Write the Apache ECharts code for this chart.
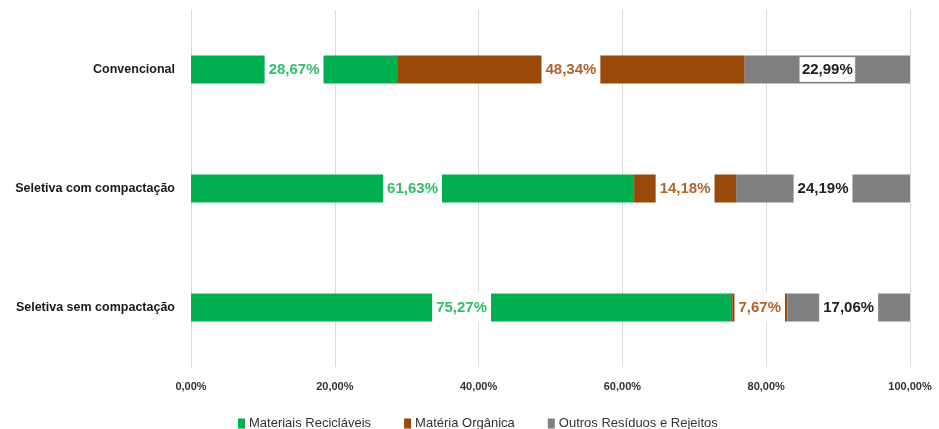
<!DOCTYPE html>
<html>
<head>
<meta charset="utf-8">
<script src="https://cdn.jsdelivr.net/npm/echarts@6/dist/echarts.min.js"></script>
<style>
html,body{margin:0;padding:0;background:#fff;}
#chart{width:939px;height:429px;}
</style>
</head>
<body>
<div id="chart"></div>
<script>
const categories = ['Convencional', 'Seletiva com compactação', 'Seletiva sem compactação'];
const seriesNames = ['Materiais Recicláveis', 'Matéria Orgânica', 'Outros Resíduos e Rejeitos'];
const reciclaveis = [28.67, 61.63, 75.27];
const organica = [48.34, 14.18, 7.67];
const outros = [22.99, 24.19, 17.06];
const xTicks = [0, 20, 40, 60, 80, 100];

const barColors = ['#00B050', '#984807', '#808080'];
const labelColors = ['#30BE68', '#B0632A', '#1E1E1E'];
const fmt = v => v.toFixed(2).replace('.', ',') + '%';
const FONT = '"Liberation Sans", Arial, sans-serif';

function makeSeries(name, values, idx) {
  return {
    name: name,
    type: 'bar',
    stack: 'total',
    barWidth: 28,
    itemStyle: { color: barColors[idx] },
    label: {
      show: true,
      position: 'inside',
      formatter: p => fmt(p.value),
      color: labelColors[idx],
      fontFamily: FONT,
      fontWeight: 'bold',
      fontSize: 15,
      lineHeight: 16,
      backgroundColor: '#ffffff',
      padding: [7, 4]
    },
    data: values.map((v, i) => {
      if (idx === 2 && i === 0) {
        return { value: v, label: { padding: [4, 2], borderColor: '#e0e0e0', borderWidth: 0.5 } };
      }
      return v;
    })
  };
}

const chart = echarts.init(document.getElementById('chart'), null, { renderer: 'canvas' });
chart.setOption({
  animation: false,
  backgroundColor: '#ffffff',
  grid: { left: 191, right: 29, top: 10, bottom: 62, containLabel: false },
  xAxis: {
    type: 'value',
    min: 0, max: 100, interval: 20,
    axisLine: { show: false },
    axisTick: { show: false },
    splitLine: { show: true, lineStyle: { color: '#d9d9d9', width: 1 } },
    axisLabel: {
      margin: 14,
      color: '#333333',
      fontFamily: FONT,
      fontWeight: 'bold',
      fontSize: 11,
      formatter: v => xTicks.includes(v) ? v.toFixed(2).replace('.', ',') + '%' : ''
    }
  },
  yAxis: {
    type: 'category',
    inverse: true,
    data: categories,
    axisLine: { show: true, lineStyle: { color: '#d9d9d9' } },
    axisTick: { show: false },
    axisLabel: {
      margin: 16,
      color: '#1a1a1a',
      fontFamily: FONT,
      fontWeight: 'bold',
      fontSize: 12.5
    }
  },
  legend: {
    left: 233,
    top: 412,
    itemWidth: 7,
    itemHeight: 10,
    itemGap: 33,
    icon: 'rect',
    textStyle: { color: '#333', fontFamily: FONT, fontSize: 13, padding: [0, 0, 0, -1] },
    data: seriesNames
  },
  series: [
    makeSeries(seriesNames[0], reciclaveis, 0),
    makeSeries(seriesNames[1], organica, 1),
    makeSeries(seriesNames[2], outros, 2)
  ]
});
</script>
</body>
</html>
